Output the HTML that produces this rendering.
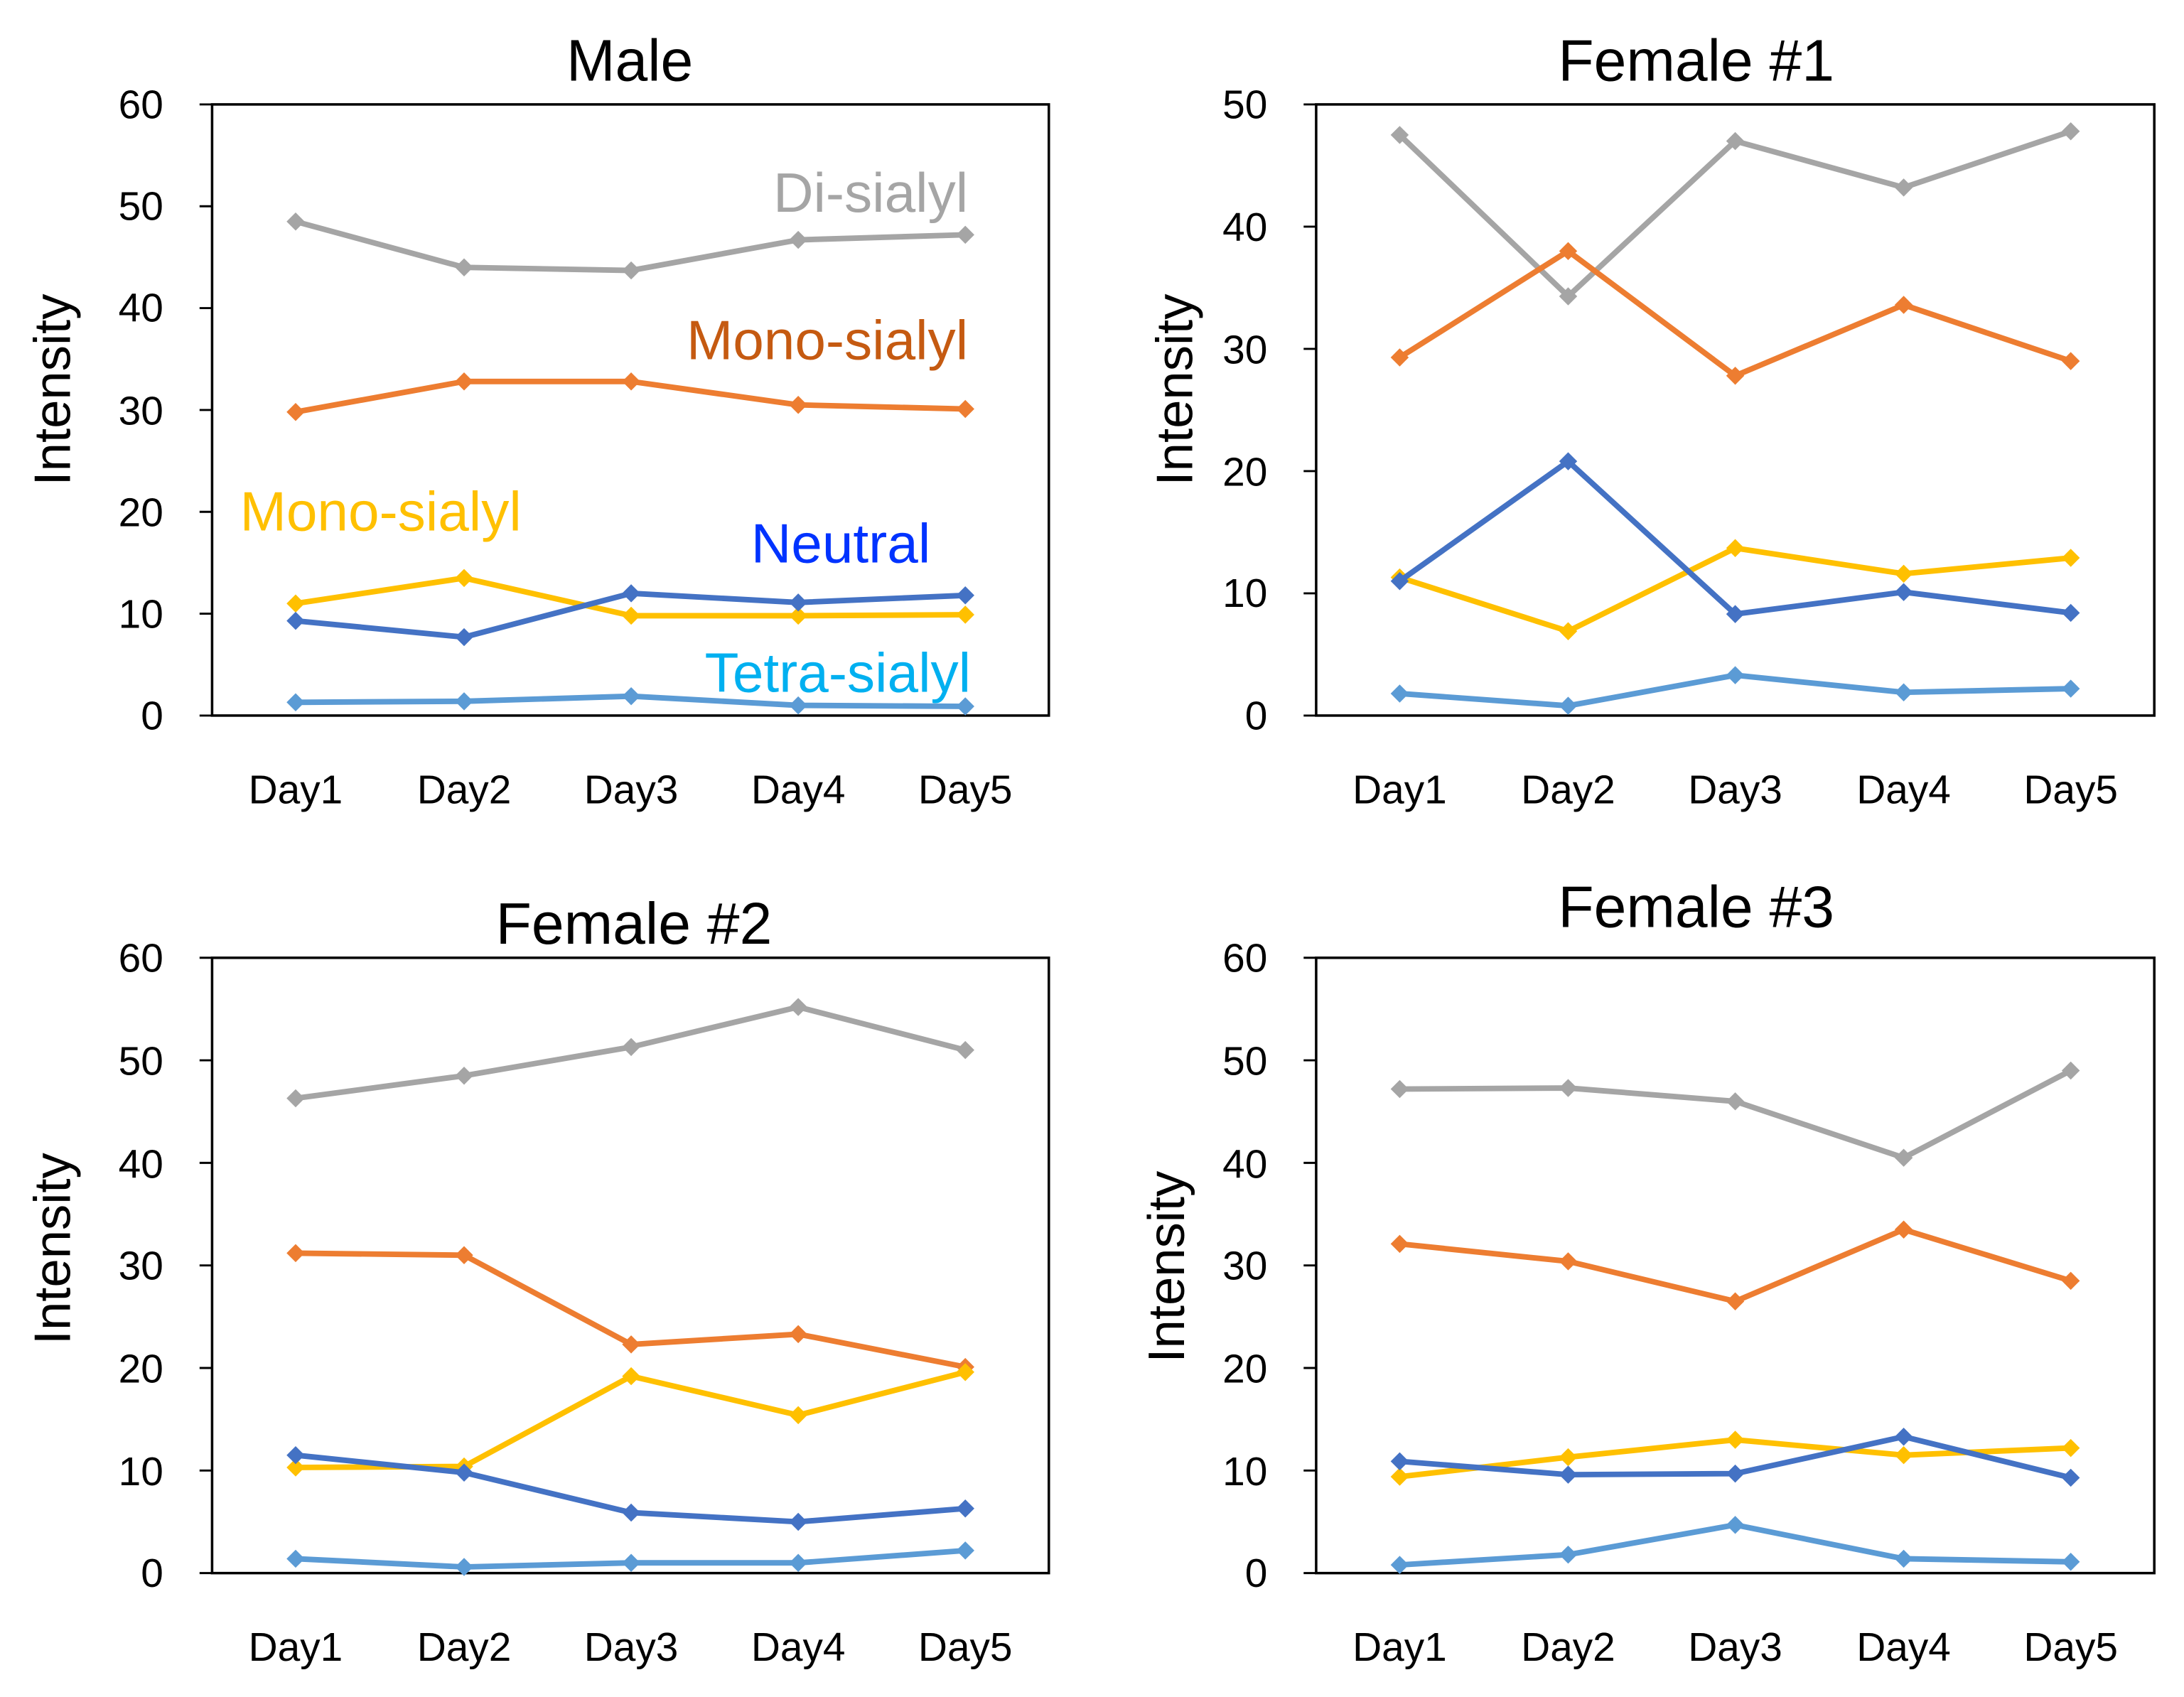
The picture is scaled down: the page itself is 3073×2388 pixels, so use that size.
<!DOCTYPE html>
<html><head><meta charset="utf-8"><style>
html,body{margin:0;padding:0;background:#fff;}
svg{display:block;}
text{font-family:"Liberation Sans",sans-serif;fill:#000;}
</style></head><body>
<svg id="s" width="3073" height="2388" viewBox="0 0 1568 1219" xmlns="http://www.w3.org/2000/svg">
<rect width="1568" height="1219" fill="#fff"/>
<g font-size="42" text-anchor="middle">
<text x="452" y="58">Male</text>
<text x="1218" y="58">Female #1</text>
<text x="455" y="678">Female #2</text>
<text x="1218" y="666">Female #3</text>
</g>
<g font-size="37" text-anchor="middle">
<text transform="translate(50,280) rotate(-90)">Intensity</text>
<text transform="translate(856,280) rotate(-90)">Intensity</text>
<text transform="translate(50,897) rotate(-90)">Intensity</text>
<text transform="translate(850,910) rotate(-90)">Intensity</text>
</g>
<g font-size="29" text-anchor="end">
<text x="117" y="85">60</text><text x="117" y="158">50</text><text x="117" y="231">40</text><text x="117" y="305">30</text><text x="117" y="378">20</text><text x="117" y="451">10</text><text x="117" y="524">0</text>
<text x="910" y="85">50</text><text x="910" y="173">40</text><text x="910" y="261">30</text><text x="910" y="349">20</text><text x="910" y="436">10</text><text x="910" y="524">0</text>
<text x="117" y="698">60</text><text x="117" y="772">50</text><text x="117" y="846">40</text><text x="117" y="919">30</text><text x="117" y="993">20</text><text x="117" y="1067">10</text><text x="117" y="1140">0</text>
<text x="910" y="698">60</text><text x="910" y="772">50</text><text x="910" y="846">40</text><text x="910" y="919">30</text><text x="910" y="993">20</text><text x="910" y="1067">10</text><text x="910" y="1140">0</text>
</g>
<g font-size="29" text-anchor="middle">
<text x="212" y="577">Day1</text><text x="333" y="577">Day2</text><text x="453" y="577">Day3</text><text x="573" y="577">Day4</text><text x="693" y="577">Day5</text>
<text x="1005" y="577">Day1</text><text x="1126" y="577">Day2</text><text x="1246" y="577">Day3</text><text x="1367" y="577">Day4</text><text x="1487" y="577">Day5</text>
<text x="212" y="1193">Day1</text><text x="333" y="1193">Day2</text><text x="453" y="1193">Day3</text><text x="573" y="1193">Day4</text><text x="693" y="1193">Day5</text>
<text x="1005" y="1193">Day1</text><text x="1126" y="1193">Day2</text><text x="1246" y="1193">Day3</text><text x="1367" y="1193">Day4</text><text x="1487" y="1193">Day5</text>
</g>
<g font-size="40">
<text x="695" y="152" text-anchor="end" style="fill:#a5a5a5">Di-sialyl</text>
<text x="695" y="258" text-anchor="end" style="fill:#c55a11">Mono-sialyl</text>
<text x="172" y="381" style="fill:#ffc000">Mono-sialyl</text>
<text x="668" y="404" text-anchor="end" style="fill:#0033ff">Neutral</text>
<text x="697" y="497" text-anchor="end" style="fill:#00b0f0">Tetra-sialyl</text>
</g>
<g id="plots"></g>
</svg>
<script>
var NS="http://www.w3.org/2000/svg";
var g=document.getElementById("plots");
function el(n,a){var e=document.createElementNS(NS,n);for(var k in a)e.setAttribute(k,a[k]);g.appendChild(e);return e;}
var cols=["#a5a5a5","#ed7d31","#ffc000","#4472c4","#5b9bd5"];
var P=[
{x0:152,x1:753,top:75,bot:514,max:60,days:[212,333,453,573,693],d:[
[48.5,44,43.7,46.7,47.2],[29.8,32.8,32.8,30.5,30.1],[11,13.5,9.8,9.8,9.9],[9.3,7.7,12,11.1,11.8],[1.3,1.4,1.9,1,0.9]]},
{x0:945,x1:1547,top:75,bot:514,max:50,days:[1005,1126,1246,1367,1487],d:[
[47.5,34.3,47,43.2,47.8],[29.3,38,27.8,33.6,29],[11.3,6.9,13.7,11.6,12.9],[11,20.8,8.3,10.1,8.4],[1.8,0.8,3.3,1.9,2.2]]},
{x0:152,x1:753,top:688,bot:1130,max:60,days:[212,333,453,573,693],d:[
[46.3,48.5,51.3,55.2,51],[31.2,31,22.3,23.3,20.1],[10.3,10.4,19.2,15.4,19.6],[11.5,9.8,5.9,5,6.3],[1.4,0.6,1,1,2.2]]},
{x0:945,x1:1547,top:688,bot:1130,max:60,days:[1005,1126,1246,1367,1487],d:[
[47.2,47.3,46,40.5,49],[32.1,30.4,26.5,33.5,28.5],[9.4,11.3,13,11.5,12.2],[10.9,9.6,9.7,13.3,9.3],[0.8,1.8,4.7,1.4,1.1]]}
];
P.forEach(function(p){
 el("rect",{x:p.x0,y:p.top,width:p.x1-p.x0,height:p.bot-p.top,fill:"none",stroke:"#000","stroke-width":1.8});
 for(var v=0;v<=p.max;v+=10){var y=p.bot-(p.bot-p.top)*v/p.max;el("line",{x1:p.x0-9,x2:p.x0,y1:y,y2:y,stroke:"#000","stroke-width":1.5});}
 p.d.forEach(function(s,i){
  var pts=s.map(function(v,j){return [p.days[j],p.bot-(p.bot-p.top)*v/p.max];});
  el("polyline",{points:pts.map(function(q){return q.join(",")}).join(" "),fill:"none",stroke:cols[i],"stroke-width":4,"stroke-linejoin":"round"});
  pts.forEach(function(q){var r=6.5;el("path",{d:"M"+q[0]+" "+(q[1]-r)+"L"+(q[0]+r)+" "+q[1]+"L"+q[0]+" "+(q[1]+r)+"L"+(q[0]-r)+" "+q[1]+"Z",fill:cols[i]});});
 });
});
</script>
</body></html>
